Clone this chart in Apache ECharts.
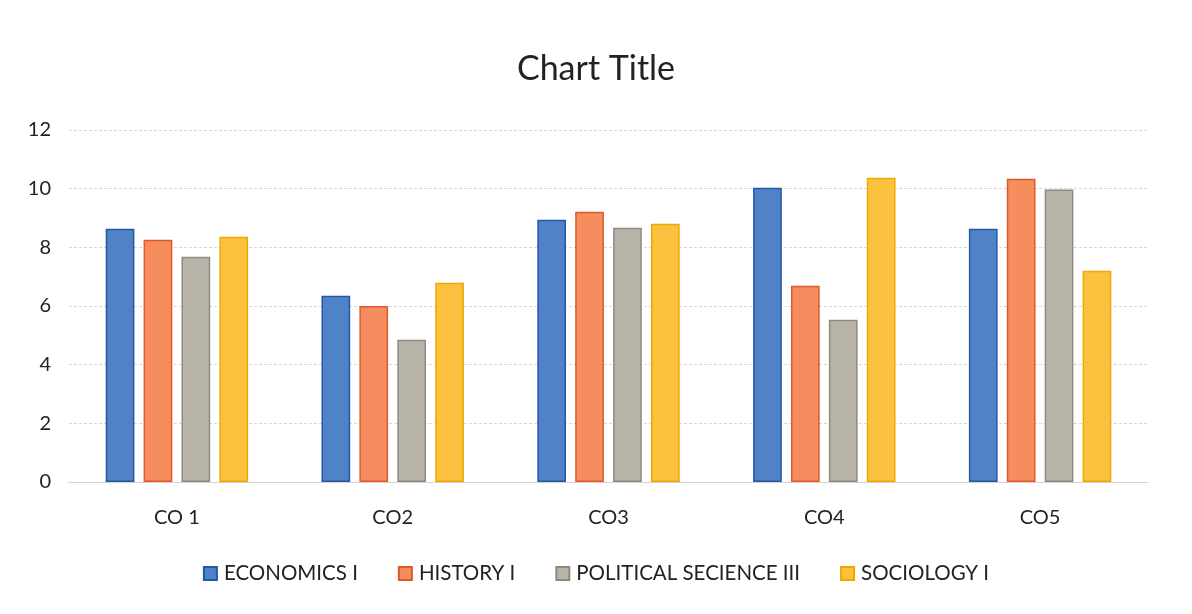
<!DOCTYPE html>
<html><head><meta charset="utf-8">
<script src="https://cdn.jsdelivr.net/npm/echarts@6/dist/echarts.min.js"></script>
<style>html,body{margin:0;padding:0;background:#fff}#c{width:1192px;height:614px}</style>
</head><body><div id="c"></div>
<script>
const categories = ['CO 1', 'CO2', 'CO3', 'CO4', 'CO5'];
const seriesNames = ['ECONOMICS I', 'HISTORY I', 'POLITICAL SECIENCE III', 'SOCIOLOGY I'];
const economics = [8.63, 6.35, 8.94, 10.03, 8.63];
const history = [8.26, 6.0, 9.21, 6.69, 10.34];
const political = [7.68, 4.85, 8.67, 5.53, 9.97];
const sociology = [8.36, 6.79, 8.8, 10.37, 7.2];
const yTicks = [0, 2, 4, 6, 8, 10, 12];

const fills = ['#4f82c6', '#f58d5f', '#b9b4aa', '#fdc140'];
const borders = ['#2457a8', '#e0592a', '#8e8a80', '#f0a800'];
const values = [economics, history, political, sociology];
const font = 'Lato, "Open Sans", sans-serif';

const chart = echarts.init(document.getElementById('c'));
chart.setOption({
  animation: false,
  backgroundColor: '#fff',
  title: { text: 'Chart Title', left: 'center', top: 47,
    textStyle: { fontFamily: font, fontSize: 34, fontWeight: 'normal', color: '#222' } },
  grid: { left: 69, right: 44, top: 130, bottom: 132, containLabel: false },
  legend: { bottom: 25, left: 'center', itemWidth: 13, itemHeight: 13, itemGap: 40,
    icon: 'rect',
    textStyle: { fontFamily: font, fontSize: 20.5, color: '#222', padding: [0, 0, 0, 2] },
    data: seriesNames },
  xAxis: { type: 'category', data: categories,
    axisLine: { lineStyle: { color: '#d8d0cc' } }, axisTick: { show: false },
    axisLabel: { fontFamily: font, fontSize: 20, color: '#222', margin: 26 } },
  yAxis: { type: 'value', min: 0, max: 12, interval: 2,
    axisLine: { show: false }, axisTick: { show: false },
    axisLabel: { fontFamily: font, fontSize: 20, color: '#222', margin: 18,
      formatter: v => yTicks.includes(v) ? String(v) : '' },
    splitLine: { lineStyle: { color: '#e2d4d0', type: [3, 2] } } },
  series: seriesNames.map((n, i) => ({
    name: n, type: 'bar', data: values[i],
    barGap: '32%', barCategoryGap: '34%',
    itemStyle: { color: fills[i], borderColor: borders[i], borderWidth: 1.5 }
  }))
});
</script></body></html>
